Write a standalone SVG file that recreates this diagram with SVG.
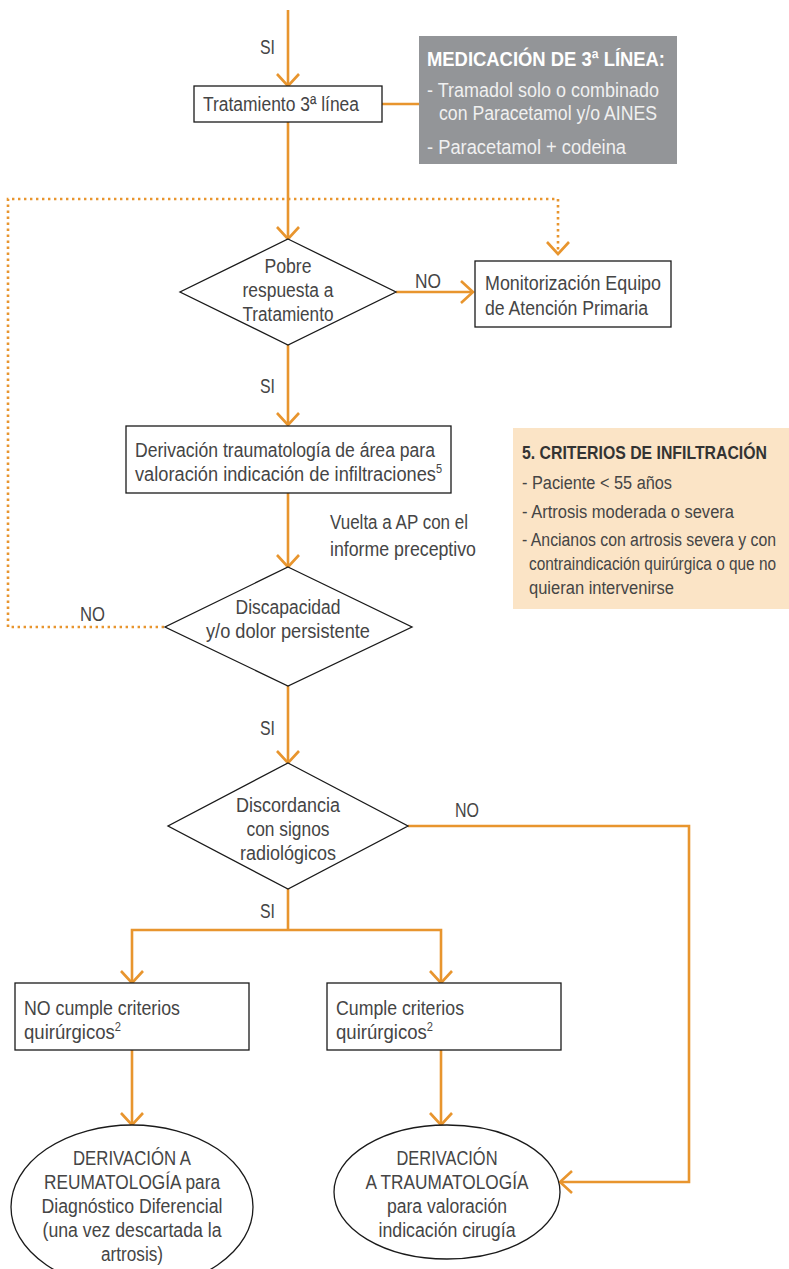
<svg xmlns="http://www.w3.org/2000/svg" width="789" height="1269" viewBox="0 0 789 1269">
<style>
text{font-family:"Liberation Sans Narrow","Liberation Sans",Arial,sans-serif;font-size:20px;fill:#454545}
.n{fill:#fff;stroke:#1a1a1a;stroke-width:1.3}
.c{fill:none;stroke:#e8952e;stroke-width:2.6}
.d{fill:none;stroke:#e8952e;stroke-width:2.6;stroke-dasharray:2.4 3.6}
.m{text-anchor:middle}
.g{fill:#f0f0f0}
.b{font-weight:bold}
.p{font-size:18px}
</style>
<defs>
<marker id="a" viewBox="-14 -13 16 26" refX="0" refY="0" markerWidth="16" markerHeight="26" markerUnits="userSpaceOnUse" orient="auto">
<path d="M-12,-11 L0,0 L-12,11" fill="none" stroke="#e8952e" stroke-width="2.6"/>
</marker>
</defs>
<rect width="789" height="1269" fill="#fff"/>
<g id="connectors">
<path class="c" d="M288,10 V86" marker-end="url(#a)"/>
<path class="c" d="M382,104 H419"/>
<path class="c" d="M288,122 V239" marker-end="url(#a)"/>
<path class="d" d="M164,627 H8 V199 H558 V254" marker-end="url(#a)"/>
<path class="c" d="M396,292 H473" marker-end="url(#a)"/>
<path class="c" d="M288,345 V425" marker-end="url(#a)"/>
<path class="c" d="M288,493 V567" marker-end="url(#a)"/>
<path class="c" d="M288,686 V763" marker-end="url(#a)"/>
<path class="c" d="M408,826 H689 V1182 H560" marker-end="url(#a)"/>
<path class="c" d="M288,889 V930"/>
<path class="c" d="M288,930 H132 V983" marker-end="url(#a)"/>
<path class="c" d="M288,930 H441 V983" marker-end="url(#a)"/>
<path class="c" d="M132,1050 V1125" marker-end="url(#a)"/>
<path class="c" d="M441,1050 V1125" marker-end="url(#a)"/>
<text x="260" y="54" textLength="15" lengthAdjust="spacingAndGlyphs">SI</text>
<text x="260" y="393" textLength="15" lengthAdjust="spacingAndGlyphs">SI</text>
<text x="260" y="735" textLength="15" lengthAdjust="spacingAndGlyphs">SI</text>
<text x="260" y="918" textLength="15" lengthAdjust="spacingAndGlyphs">SI</text>
<text x="415" y="288" textLength="26" lengthAdjust="spacingAndGlyphs">NO</text>
<text x="80" y="621" textLength="25" lengthAdjust="spacingAndGlyphs">NO</text>
<text x="455" y="817" textLength="24" lengthAdjust="spacingAndGlyphs">NO</text>
<text x="330" y="529" textLength="138" lengthAdjust="spacingAndGlyphs">Vuelta a AP con el</text>
<text x="330" y="556" textLength="146" lengthAdjust="spacingAndGlyphs">informe preceptivo</text>
</g>
<g id="tratamiento">
<rect class="n" x="194" y="86" width="188" height="36"/>
<text x="203" y="111" textLength="156" lengthAdjust="spacingAndGlyphs">Tratamiento 3ª línea</text>
</g>
<g id="medicacion">
<rect x="419" y="36" width="258" height="128" fill="#939598"/>
<text class="b" x="427" y="66" style="fill:#fff;font-size:21px" textLength="238" lengthAdjust="spacingAndGlyphs">MEDICACIÓN DE 3ª LÍNEA:</text>
<text class="g" x="427" y="97" textLength="232" lengthAdjust="spacingAndGlyphs">- Tramadol solo o combinado</text>
<text class="g" x="439" y="120" textLength="218" lengthAdjust="spacingAndGlyphs">con Paracetamol y/o AINES</text>
<text class="g" x="427" y="154" textLength="199" lengthAdjust="spacingAndGlyphs">- Paracetamol + codeina</text>
</g>
<g id="pobre">
<polygon class="n" points="288,239 396,292 288,345 180,292"/>
<text class="m" x="288" y="273" textLength="47" lengthAdjust="spacingAndGlyphs">Pobre</text>
<text class="m" x="288" y="297" textLength="91" lengthAdjust="spacingAndGlyphs">respuesta a</text>
<text class="m" x="288" y="321" textLength="91" lengthAdjust="spacingAndGlyphs">Tratamiento</text>
</g>
<g id="monitorizacion">
<rect class="n" x="475" y="261" width="196" height="66"/>
<text x="485" y="290" textLength="176" lengthAdjust="spacingAndGlyphs">Monitorización Equipo</text>
<text x="485" y="315" textLength="163" lengthAdjust="spacingAndGlyphs">de Atención Primaria</text>
</g>
<g id="derivacion">
<rect class="n" x="126" y="426" width="325" height="67"/>
<text x="135" y="457" textLength="300" lengthAdjust="spacingAndGlyphs">Derivación traumatología de área para</text>
<text x="135" y="481" textLength="307" lengthAdjust="spacingAndGlyphs">valoración indicación de infiltraciones<tspan font-size="12" dy="-8">5</tspan></text>
</g>
<g id="criterios">
<rect x="513" y="428" width="276" height="181" fill="#fbe4c6"/>
<text class="b" x="522" y="459" textLength="245" lengthAdjust="spacingAndGlyphs" style="font-size:19px;fill:#333">5. CRITERIOS DE INFILTRACIÓN</text>
<text class="p" x="522" y="489" textLength="150" lengthAdjust="spacingAndGlyphs">- Paciente &lt; 55 años</text>
<text class="p" x="522" y="518" textLength="212" lengthAdjust="spacingAndGlyphs">- Artrosis moderada o severa</text>
<text class="p" x="522" y="546" textLength="254" lengthAdjust="spacingAndGlyphs">- Ancianos con artrosis severa y con</text>
<text class="p" x="529" y="570" textLength="247" lengthAdjust="spacingAndGlyphs">contraindicación quirúrgica o que no</text>
<text class="p" x="529" y="594" textLength="145" lengthAdjust="spacingAndGlyphs">quieran intervenirse</text>
</g>
<g id="discapacidad">
<polygon class="n" points="288,567 412,627 288,686 165,627"/>
<text class="m" x="288" y="614" textLength="105" lengthAdjust="spacingAndGlyphs">Discapacidad</text>
<text class="m" x="288" y="638" textLength="164" lengthAdjust="spacingAndGlyphs">y/o dolor persistente</text>
</g>
<g id="discordancia">
<polygon class="n" points="288,763 408,826 288,889 168,826"/>
<text class="m" x="288" y="812" textLength="104" lengthAdjust="spacingAndGlyphs">Discordancia</text>
<text class="m" x="288" y="836" textLength="83" lengthAdjust="spacingAndGlyphs">con signos</text>
<text class="m" x="288" y="860" textLength="96" lengthAdjust="spacingAndGlyphs">radiológicos</text>
</g>
<g id="no-cumple">
<rect class="n" x="15" y="983" width="234" height="67"/>
<text x="24" y="1015" textLength="156" lengthAdjust="spacingAndGlyphs">NO cumple criterios</text>
<text x="24" y="1039" textLength="97" lengthAdjust="spacingAndGlyphs">quirúrgicos<tspan font-size="12" dy="-8">2</tspan></text>
</g>
<g id="cumple">
<rect class="n" x="327" y="983" width="234" height="67"/>
<text x="336" y="1015" textLength="128" lengthAdjust="spacingAndGlyphs">Cumple criterios</text>
<text x="336" y="1039" textLength="97" lengthAdjust="spacingAndGlyphs">quirúrgicos<tspan font-size="12" dy="-8">2</tspan></text>
</g>
<g id="reumatologia">
<ellipse class="n" cx="132" cy="1207" rx="121" ry="82"/>
<text class="m" x="132" y="1165" textLength="118" lengthAdjust="spacingAndGlyphs">DERIVACIÓN A</text>
<text class="m" x="132" y="1189" textLength="176" lengthAdjust="spacingAndGlyphs">REUMATOLOGÍA para</text>
<text class="m" x="132" y="1213" textLength="181" lengthAdjust="spacingAndGlyphs">Diagnóstico Diferencial</text>
<text class="m" x="132" y="1237" textLength="179" lengthAdjust="spacingAndGlyphs">(una vez descartada la</text>
<text class="m" x="132" y="1261" textLength="62" lengthAdjust="spacingAndGlyphs">artrosis)</text>
</g>
<g id="traumatologia">
<ellipse class="n" cx="447" cy="1192" rx="113" ry="67"/>
<text class="m" x="447" y="1165" textLength="101" lengthAdjust="spacingAndGlyphs">DERIVACIÓN</text>
<text class="m" x="447" y="1189" textLength="163" lengthAdjust="spacingAndGlyphs">A TRAUMATOLOGÍA</text>
<text class="m" x="447" y="1213" textLength="120" lengthAdjust="spacingAndGlyphs">para valoración</text>
<text class="m" x="447" y="1237" textLength="137" lengthAdjust="spacingAndGlyphs">indicación cirugía</text>
</g>
</svg>
